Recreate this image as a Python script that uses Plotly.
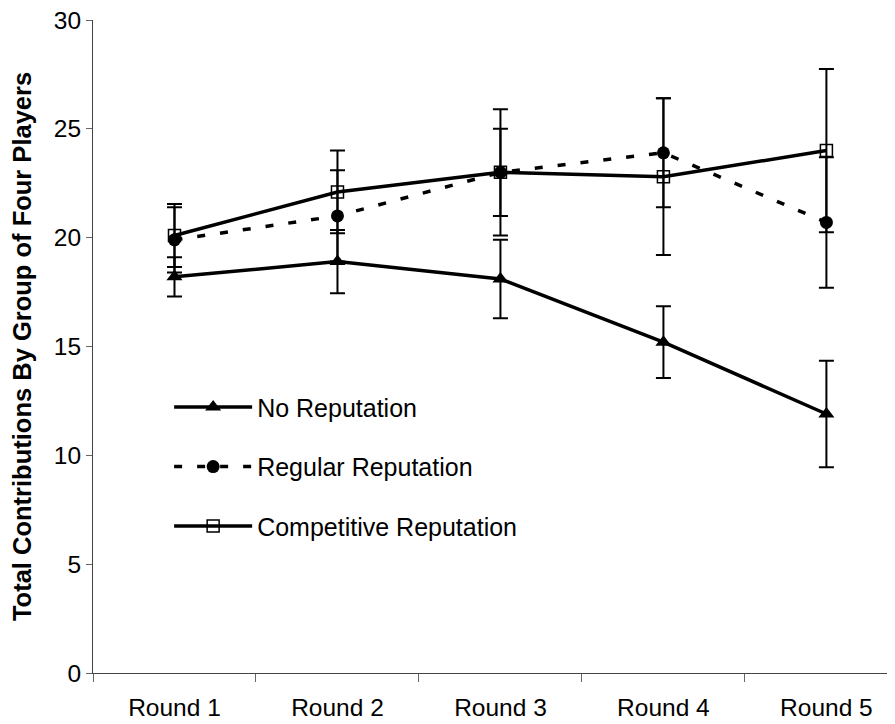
import plotly.graph_objects as go

rounds = ["Round 1", "Round 2", "Round 3", "Round 4", "Round 5"]

no_rep = [18.2, 18.9, 18.1, 15.2, 11.9]
no_rep_err = [0.9, 1.45, 1.8, 1.65, 2.45]

reg_rep = [19.9, 21.0, 23.0, 23.9, 20.7]
reg_rep_err = [1.5, 2.1, 2.0, 2.5, 3.0]

comp_rep = [20.1, 22.1, 23.0, 22.8, 24.0]
comp_rep_err = [1.45, 1.9, 2.9, 3.6, 3.75]

FONT = "Arial, Liberation Sans, sans-serif"

def err(arr):
    return dict(type="data", array=arr, visible=True, color="black",
                thickness=2, width=7.5)

fig = go.Figure()
fig.add_trace(go.Scatter(
    x=rounds, y=no_rep, name="No Reputation", legendgroup="a",
    mode="lines+markers",
    line=dict(color="black", width=3.5),
    marker=dict(symbol="triangle-up", size=14, color="black"),
    error_y=err(no_rep_err)))
fig.add_trace(go.Scatter(
    x=rounds, y=reg_rep, name="Regular Reputation", legendgroup="b",
    mode="lines+markers",
    line=dict(color="black", width=3.5, dash="8px,15px"),
    marker=dict(symbol="circle", size=13, color="black"),
    error_y=err(reg_rep_err)))
fig.add_trace(go.Scatter(
    x=rounds, y=comp_rep, name="Competitive Reputation", legendgroup="c",
    mode="lines+markers",
    line=dict(color="black", width=3.5),
    marker=dict(symbol="square-open", size=12, color="black",
                line=dict(width=1.5, color="black")),
    error_y=err(comp_rep_err)))

fig.update_layout(
    width=895, height=724,
    margin=dict(l=85, r=0, t=12, b=59, autoexpand=False),
    paper_bgcolor="white", plot_bgcolor="white",
    font=dict(family=FONT, size=24, color="black"),
    showlegend=True,
    legend=dict(x=0.094, y=0.442, xanchor="left", yanchor="top",
                bgcolor="rgba(0,0,0,0)", borderwidth=0,
                font=dict(family=FONT, size=25, color="black"),
                itemwidth=78, tracegroupgap=24, traceorder="grouped"),
    xaxis=dict(type="category", range=[-0.5, 4.47], automargin=False,
               showline=True, linecolor="#444", linewidth=1,
               ticks="outside", ticklen=8, tickcolor="#666", tickson="boundaries",
               showgrid=False, zeroline=False, ticklabelstandoff=13,
               tickfont=dict(family=FONT, size=24.5, color="black")),
    yaxis=dict(range=[0, 30], dtick=5, tick0=0, automargin=False,
               showline=True, linecolor="#444", linewidth=1,
               ticks="outside", ticklen=6, tickcolor="#666",
               showgrid=False, zeroline=False, ticklabeloverflow="allow",
               tickfont=dict(family=FONT, size=24.5, color="black"),
               title=dict(text="<b>Total Contributions By Group of Four Players</b>",
                          font=dict(family=FONT, size=25.5, color="black"),
                          standoff=19)),
)

fig.write_html("out.html")
